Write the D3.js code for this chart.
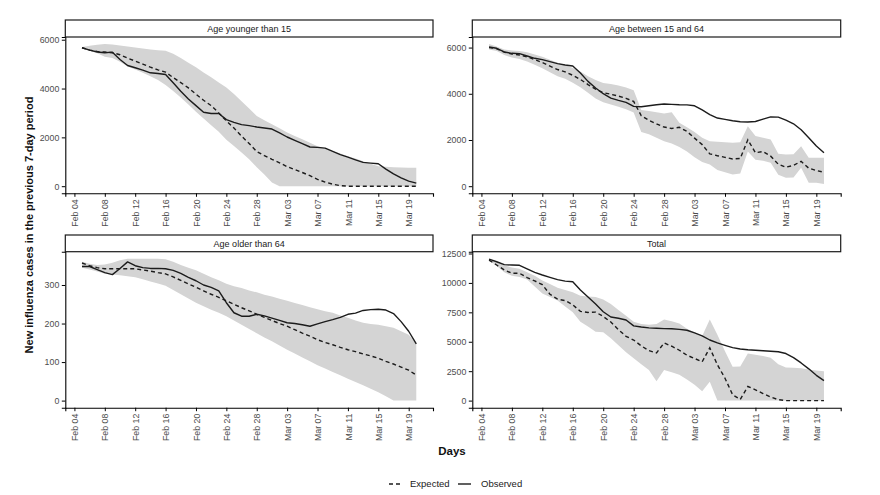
<!DOCTYPE html>
<html><head><meta charset="utf-8">
<script src="https://cdn.jsdelivr.net/npm/d3@7"></script>
<style>
body{margin:0;background:#fff}
svg{display:block}
text{font-family:"Liberation Sans",Arial,Helvetica,sans-serif}
</style>
</head><body>
<svg id="chart" width="880" height="495"></svg>
<script>
// ---------- DATA ----------
const startDate = "2020-02-05"; // first day of the daily series (45 days, to 2020-03-20)
const tickDates  = ["2020-02-04","2020-02-08","2020-02-12","2020-02-16","2020-02-20","2020-02-24","2020-02-28","2020-03-03","2020-03-07","2020-03-11","2020-03-15","2020-03-19"];
const tickLabels = ["Feb 04","Feb 08","Feb 12","Feb 16","Feb 20","Feb 24","Feb 28","Mar 03","Mar 07","Mar 11","Mar 15","Mar 19"];
const panelTitles = ["Age younger than 15","Age between 15 and 64","Age older than 64","Total"];

const yTicksYoung = [0,2000,4000,6000];
const yTicksMid   = [0,2000,4000,6000];
const yTicksOld   = [0,100,200,300];
const yTicksTot   = [0,2500,5000,7500,10000,12500];
const yTickLabelsTot = ["0","2500","5000","7500","10000","12500"];

const obsYoung = [5670,5575,5495,5465,5490,5190,4945,4850,4755,4645,4615,4575,4235,3890,3575,3300,3030,2975,2975,2725,2615,2520,2480,2425,2385,2340,2180,2015,1875,1740,1605,1590,1560,1425,1290,1190,1080,975,945,920,700,505,340,205,125];
const expYoung = [5670,5575,5520,5495,5465,5385,5245,5125,5000,4875,4765,4670,4450,4245,4025,3770,3520,3300,3000,2680,2380,2050,1750,1420,1250,1100,960,800,680,560,430,280,170,80,25,0,0,0,0,0,0,0,0,0,0];
const loYoung  = [5650,5550,5450,5300,5250,5100,4900,4780,4650,4500,4350,4150,3900,3630,3350,3050,2770,2500,2230,1900,1650,1380,1100,780,480,150,0,0,0,0,0,0,0,0,0,0,0,0,0,0,0,0,0,0,0];
const hiYoung  = [5700,5750,5790,5820,5800,5760,5720,5680,5640,5600,5570,5550,5420,5250,5060,4870,4660,4460,4250,4040,3780,3480,3180,2880,2700,2540,2370,2200,2060,1920,1780,1640,1540,1440,1340,1230,1130,1020,920,820,800,780,770,760,760];

const obsMid = [6026,5968,5809,5751,5737,5636,5535,5477,5390,5303,5246,5202,4899,4538,4249,4003,3815,3714,3627,3454,3439,3483,3526,3555,3540,3526,3520,3480,3300,3100,2950,2890,2830,2790,2780,2800,2900,3000,2990,2860,2700,2440,2100,1740,1450];
const expMid = [6000,5950,5800,5720,5680,5600,5480,5350,5200,5050,4950,4800,4620,4400,4200,4050,3980,3900,3800,3670,3050,2850,2700,2560,2500,2550,2370,2080,1800,1400,1320,1250,1180,1200,2010,1450,1500,1300,950,820,900,1080,780,680,600];
const loMid  = [5920,5850,5680,5570,5510,5400,5260,5100,4930,4760,4650,4480,4280,4040,3800,3630,3540,3440,3330,3190,2350,2250,2100,1950,1850,1700,1500,1250,1050,940,700,600,510,550,1500,1150,1100,1013,500,364,380,800,147,147,100];
const hiMid  = [6150,6050,5920,5870,5850,5800,5700,5600,5470,5340,5250,5120,4960,4760,4600,4470,4420,4360,4270,4150,3300,3250,3200,3150,3200,2750,2550,2350,2100,1950,1920,1900,1880,1900,2600,2170,2100,2024,1400,1374,1380,1734,1229,1229,1229];

const obsOld = [348,348,340,332,327,343,360,350,345,343,343,342,338,330,320,311,300,294,285,254,228,219,219,224,220,214,208,202,200,197,193,199,205,210,216,224,227,234,236,237,235,226,205,180,147];
const expOld = [357,350,345,342,342,342,342,342,339,336,332,329,321,312,303,294,285,276,268,259,250,241,233,224,216,208,200,193,184,175,167,158,151,145,138,132,127,121,116,110,102,95,87,79,66];
const loOld  = [345,340,335,329,327,325,323,320,315,309,304,298,287,276,265,254,245,236,228,219,208,197,186,175,164,154,143,132,122,112,102,92,83,74,66,57,48,40,31,22,11,0,0,0,0];
const hiOld  = [360,355,352,353,358,364,368,368,368,368,368,367,360,352,345,338,329,320,312,303,297,292,286,281,275,270,264,259,253,248,242,237,232,228,221,215,208,202,199,197,193,189,180,171,149];

const obsTot = [12020,11800,11550,11520,11500,11200,10900,10670,10470,10280,10150,10100,9400,8800,8200,7550,7100,7000,6850,6350,6250,6180,6150,6120,6100,6050,5980,5750,5500,5150,4900,4700,4500,4380,4320,4280,4240,4200,4150,4000,3650,3200,2700,2150,1700];
const expTot = [11940,11520,11100,10820,10820,10450,10170,9850,9040,8620,8500,8140,7580,7490,7520,7150,6680,6030,5460,5150,4650,4250,4050,4900,4620,4280,3860,3580,3300,4480,3050,1900,500,100,1200,920,600,300,80,0,0,0,0,0,0];
const loTot  = [11900,11450,10900,10600,10500,10300,9700,9100,8800,8500,8000,7500,6700,6300,5850,5800,5300,4700,4100,3600,3100,2600,1650,2600,2400,2200,1800,1350,800,1600,0,0,0,0,0,0,0,0,0,0,0,0,0,0,0];
const hiTot  = [12050,11800,11500,11300,11200,10900,10600,10200,9900,9600,9400,9200,8900,8850,8800,8600,8200,7700,7200,6700,6500,6450,6500,6900,6750,6550,6100,5800,5500,6900,5600,4200,2870,2900,4000,3900,3800,3650,3100,2815,2800,2750,2650,2550,2500];

const legendLabels = ["Expected","Observed"];
const xTitle = "Days";
const yTitle = "New influenza cases in the previous 7-day period";

// ---------- LAYOUT ----------
const W = 880, H = 495;
const cols = [[65.3, 433], [472.3, 840.7]];
const rows = [{strip:[20,37], plot:[37,193.3]}, {strip:[235,251.7], plot:[251.7,407.7]}];
const panels = [
  {title: panelTitles[0], obs: obsYoung, exp: expYoung, lo: loYoung, hi: hiYoung, ticks: yTicksYoung, tickLabels: yTicksYoung.map(String), c:0, r:0},
  {title: panelTitles[1], obs: obsMid,   exp: expMid,   lo: loMid,   hi: hiMid,   ticks: yTicksMid,   tickLabels: yTicksMid.map(String),   c:1, r:0},
  {title: panelTitles[2], obs: obsOld,   exp: expOld,   lo: loOld,   hi: hiOld,   ticks: yTicksOld,   tickLabels: yTicksOld.map(String),   c:0, r:1},
  {title: panelTitles[3], obs: obsTot,   exp: expTot,   lo: loTot,   hi: hiTot,   ticks: yTicksTot,   tickLabels: yTickLabelsTot,          c:1, r:1},
];

const parse = d3.utcParse("%Y-%m-%d");
const d0 = parse(startDate);
const dates = d3.range(obsYoung.length).map(i => d3.utcDay.offset(d0, i));
const span = (dates[dates.length-1] - dates[0]);
const xDomain = [new Date(+dates[0] - span*0.05), new Date(+dates[dates.length-1] + span*0.05)];

const svg = d3.select("#chart");
svg.append("rect").attr("width", W).attr("height", H).attr("fill", "#fff");

const lineCol = "#1c1c1c";
const ribbonCol = "#d4d4d4";
const tickCol = "#4d4d4d";
const fs = 8.8;

panels.forEach(p => {
  const [xl, xr] = cols[p.c];
  const row = rows[p.r];
  const [yt, yb] = row.plot;
  const x = d3.scaleUtc().domain(xDomain).range([xl, xr]);
  const ymax = d3.max([...p.hi, ...p.obs, ...p.exp]);
  const ymin = 0;
  const ext = ymax - ymin;
  const y = d3.scaleLinear().domain([ymin - ext*0.05, ymax + ext*0.05]).range([yb, yt]);

  const g = svg.append("g");
  const recs = dates.map((d, i) => ({d, o: p.obs[i], e: p.exp[i], lo: p.lo[i], hi: p.hi[i]}));

  g.append("path").datum(recs)
    .attr("fill", ribbonCol)
    .attr("d", d3.area().x(r => x(r.d)).y0(r => y(r.lo)).y1(r => y(r.hi)));
  g.append("path").datum(recs)
    .attr("fill", "none").attr("stroke", lineCol).attr("stroke-width", 1.4)
    .attr("stroke-dasharray", "4,3")
    .attr("d", d3.line().x(r => x(r.d)).y(r => y(r.e)));
  g.append("path").datum(recs)
    .attr("fill", "none").attr("stroke", lineCol).attr("stroke-width", 1.4)
    .attr("stroke-linejoin", "round")
    .attr("d", d3.line().x(r => x(r.d)).y(r => y(r.o)));

  const xAxis = d3.axisBottom(x)
    .tickValues(tickDates.map(parse))
    .tickFormat((d, i) => tickLabels[i])
    .tickSizeOuter(0).tickSize(3.5).tickPadding(3);
  const gx = svg.append("g").attr("transform", `translate(0,${yb})`).call(xAxis);
  gx.select(".domain").attr("stroke", "#000").attr("stroke-width", 1.1);
  gx.selectAll(".tick line").attr("stroke", "#000").attr("stroke-width", 1);
  gx.selectAll(".tick text")
    .attr("fill", tickCol).attr("font-size", fs)
    .attr("text-anchor", "end")
    .attr("transform", "rotate(-90)")
    .attr("x", -6).attr("y", 0).attr("dy", "0.35em");

  const yAxis = d3.axisLeft(y).tickValues(p.ticks)
    .tickFormat((d, i) => p.tickLabels[i])
    .tickSizeOuter(0).tickSize(3.5).tickPadding(2.5);
  const gy = svg.append("g").attr("transform", `translate(${xl},0)`).call(yAxis);
  gy.select(".domain").attr("stroke", "#000").attr("stroke-width", 1.1);
  gy.selectAll(".tick line").attr("stroke", "#000").attr("stroke-width", 1);
  gy.selectAll(".tick text").attr("fill", tickCol).attr("font-size", fs);

  const [st, sb] = row.strip;
  svg.append("rect").attr("x", xl).attr("y", st).attr("width", xr - xl).attr("height", sb - st)
    .attr("fill", "#fff").attr("stroke", "#1a1a1a").attr("stroke-width", 1.2);
  svg.append("text").attr("x", (xl + xr)/2).attr("y", (st + sb)/2).attr("dy", "0.35em")
    .attr("text-anchor", "middle").attr("font-size", 9).attr("fill", "#1a1a1a").text(p.title);
});

svg.append("text").attr("x", 452).attr("y", 455).attr("text-anchor", "middle")
  .attr("font-size", 11.5).attr("font-weight", "bold").attr("fill", "#111").text(xTitle);
svg.append("text").attr("transform", "translate(33,225) rotate(-90)").attr("text-anchor", "middle")
  .attr("font-size", 11).attr("font-weight", "bold").attr("fill", "#111").text(yTitle);

const ly = 484;
const lg = svg.append("g");
lg.append("line").attr("x1", 389).attr("x2", 402).attr("y1", ly).attr("y2", ly)
  .attr("stroke", lineCol).attr("stroke-width", 1.4).attr("stroke-dasharray", "4,3");
lg.append("text").attr("x", 410).attr("y", ly).attr("dy", "0.35em").attr("font-size", 9.5).attr("fill", "#1a1a1a").text(legendLabels[0]);
lg.append("line").attr("x1", 458).attr("x2", 471).attr("y1", ly).attr("y2", ly)
  .attr("stroke", lineCol).attr("stroke-width", 1.4);
lg.append("text").attr("x", 481).attr("y", ly).attr("dy", "0.35em").attr("font-size", 9.5).attr("fill", "#1a1a1a").text(legendLabels[1]);
</script>
</body></html>
